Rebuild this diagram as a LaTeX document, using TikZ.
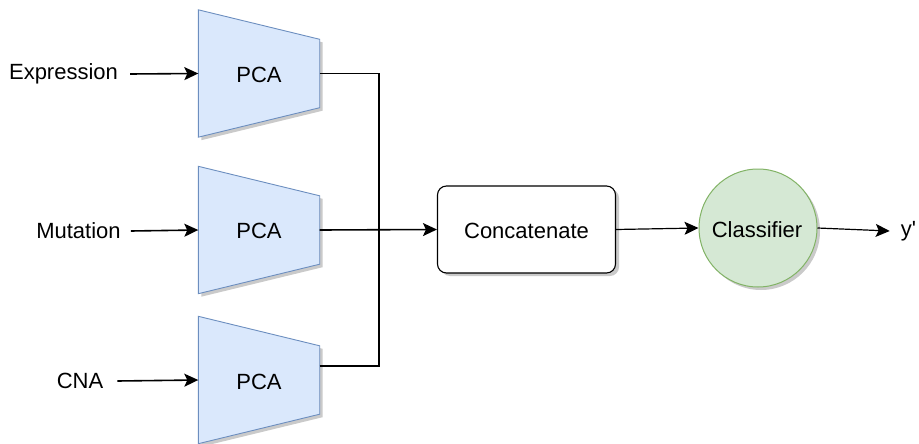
\documentclass[tikz,border=0pt]{standalone}
\usepackage{fontspec}
\setmainfont{Liberation Sans}
\usetikzlibrary{arrows.meta}

\definecolor{pcafill}{HTML}{DAE8FC}
\definecolor{pcaline}{HTML}{6C8EBF}
\definecolor{clsfill}{HTML}{D5E8D4}
\definecolor{clsline}{HTML}{82B366}
\definecolor{shade}{HTML}{B3B3B3}

\tikzset{
  txt/.style={font=\fontsize{22}{26}\selectfont, inner sep=0pt},
  pcablock/.style={txt, minimum width=121pt, minimum height=127pt, draw=none},
  link/.style={line width=1.6pt, -{Stealth[length=14pt,width=13pt,inset=3pt]}},
  wire/.style={line width=1.3pt},
  shadowfill/.style={fill=shade, opacity=0.7},
}

% trapezoid-shaped PCA block: wide on the left, narrow (68pt) on the right
\newcommand\pcashape[1]{%
  \fill[shadowfill] ([shift={(3pt,-3pt)}]#1.north west) -- ([shift={(3pt,-32.5pt)}]#1.north east)
    -- ([shift={(3pt,26.5pt)}]#1.south east) -- ([shift={(3pt,-3pt)}]#1.south west) -- cycle;
  \draw[pcaline, fill=pcafill, line width=0.9pt] (#1.north west) -- ([yshift=-29.5pt]#1.north east)
    -- ([yshift=29.5pt]#1.south east) -- (#1.south west) -- cycle;
}

\begin{document}
\begin{tikzpicture}[x=1pt, y=-1pt]
  \useasboundingbox (0,0) rectangle (919,444);

  % input labels
  \node[txt] (expr) at (63.5,74) {Expression};
  \node[txt] (mut)  at (78.5,231) {Mutation};
  \node[txt] (cna)  at (80,381) {CNA};

  % PCA blocks
  \node[pcablock] (pca1) at (259,73.5) {};
  \node[pcablock] (pca2) at (259,230) {};
  \node[pcablock] (pca3) at (259,380) {};
  \pcashape{pca1}
  \pcashape{pca2}
  \pcashape{pca3}
  \node[txt] (pca1t) at (259,75) {PCA};
  \node[txt] (pca2t) at (259,231) {PCA};
  \node[txt] (pca3t) at (259,382) {PCA};

  % concatenation box
  \fill[shadowfill, rounded corners=9pt] (441,189) rectangle (619,276);
  \node[txt, draw, line width=1.1pt, fill=white, rounded corners=9pt,
        minimum width=178pt, minimum height=87pt] (cat) at (526.5,229.5) {};
  \node[txt] (catt) at (526.5,231) {Concatenate};

  % classifier
  \fill[shadowfill] (761,231) circle (59pt);
  \node[txt, circle, draw=clsline, fill=clsfill, line width=1pt,
        minimum size=118pt] (cls) at (758,228) {};
  \node[txt] (clst) at (757,230) {Classifier};

  \node[txt] (out) at (908.5,231) {y\textquotesingle};

  % inputs into PCA
  \draw[link] ([xshift=12pt]expr.east) -- (pca1.west);
  \draw[link] ([xshift=10pt]mut.east) -- (pca2.west);
  \draw[link] ([xshift=14pt]cna.east) -- (pca3.west);

  % PCA outputs merged into concatenation
  \coordinate (bus) at (379,230);
  \draw[wire] (pca1.east) -| (bus);
  \draw[wire] ([yshift=14pt]pca3.east) -| (bus);
  \draw[link] (pca2.east) -- (cat.west);

  \draw[link, line width=1.2pt] (cat.east) -- (cls.west);
  \draw[link, line width=1.2pt] (cls.east) -- ([xshift=-11pt]out.west);
\end{tikzpicture}
\end{document}
